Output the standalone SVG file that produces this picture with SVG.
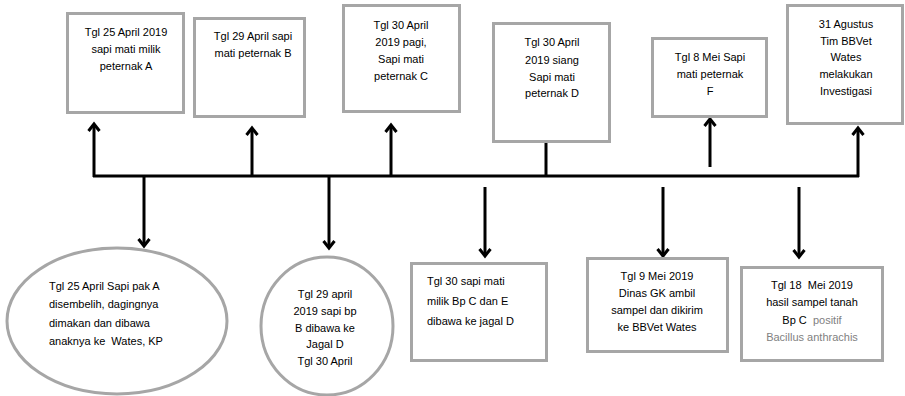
<svg xmlns="http://www.w3.org/2000/svg" width="905" height="396" viewBox="0 0 905 396">
  <style>
    .box { fill: #ffffff; stroke: #a6a6a6; stroke-width: 3; }
    .txt { font-family: "Liberation Sans", Arial, sans-serif; font-size: 11px; fill: #000000; }
    .mid { text-anchor: middle; }
    .grey { fill: #7f7f7f; }
    .line { fill: none; stroke: #000000; stroke-width: 3; }
  </style>
  <defs>
    <marker id="head" markerUnits="userSpaceOnUse" markerWidth="16" markerHeight="16" viewBox="-8 -8 16 16" refX="0" refY="0" orient="auto">
      <polyline points="-7,-5.5 0,0 -7,5.5" fill="none" stroke="#000000" stroke-width="3" stroke-linejoin="miter"/>
    </marker>
  </defs>

  <!-- timeline with connectors -->
  <g id="connectors">
    <line class="line" x1="93" y1="176" x2="859" y2="176"/>
    <!-- upward events -->
    <line class="line" x1="94" y1="177" x2="94" y2="124" marker-end="url(#head)"/>
    <line class="line" x1="252" y1="176" x2="252" y2="128" marker-end="url(#head)"/>
    <line class="line" x1="391" y1="176" x2="391" y2="125" marker-end="url(#head)"/>
    <line class="line" x1="546" y1="176" x2="546" y2="143"/>
    <line class="line" x1="710" y1="167" x2="710" y2="119" marker-end="url(#head)"/>
    <line class="line" x1="858" y1="177" x2="858" y2="128" marker-end="url(#head)"/>
    <!-- downward events -->
    <line class="line" x1="144" y1="176" x2="144" y2="246" marker-end="url(#head)"/>
    <line class="line" x1="329" y1="176" x2="329" y2="248" marker-end="url(#head)"/>
    <line class="line" x1="485" y1="187" x2="485" y2="256" marker-end="url(#head)"/>
    <line class="line" x1="663" y1="187" x2="663" y2="256" marker-end="url(#head)"/>
    <line class="line" x1="799" y1="187" x2="799" y2="257" marker-end="url(#head)"/>
  </g>

  <!-- events above the timeline -->
  <g id="event-a">
    <rect class="box" x="67.5" y="13.5" width="116" height="99"/>
    <text class="txt mid" x="126" y="36">Tgl 25 April 2019</text>
    <text class="txt mid" x="126" y="53">sapi mati milik</text>
    <text class="txt mid" x="126" y="70">peternak A</text>
  </g>
  <g id="event-b">
    <rect class="box" x="194.5" y="18.5" width="110" height="98"/>
    <text class="txt mid" x="253" y="40">Tgl 29 April sapi</text>
    <text class="txt mid" x="253" y="57">mati peternak B</text>
  </g>
  <g id="event-c">
    <rect class="box" x="343.5" y="5.5" width="116" height="106"/>
    <text class="txt mid" x="401" y="29">Tgl 30 April</text>
    <text class="txt mid" x="401" y="46">2019 pagi,</text>
    <text class="txt mid" x="401" y="63">Sapi mati</text>
    <text class="txt mid" x="401" y="80">peternak C</text>
  </g>
  <g id="event-d">
    <rect class="box" x="493.5" y="23.5" width="116" height="118"/>
    <text class="txt mid" x="552" y="46">Tgl 30 April</text>
    <text class="txt mid" x="552" y="64">2019 siang</text>
    <text class="txt mid" x="552" y="81">Sapi mati</text>
    <text class="txt mid" x="552" y="97">peternak D</text>
  </g>
  <g id="event-f">
    <rect class="box" x="652.5" y="38.5" width="114" height="78"/>
    <text class="txt mid" x="710" y="61">Tgl 8 Mei Sapi</text>
    <text class="txt mid" x="710" y="78">mati peternak</text>
    <text class="txt mid" x="710" y="95">F</text>
  </g>
  <g id="event-investigasi">
    <rect class="box" x="787.5" y="5.5" width="115" height="118"/>
    <text class="txt mid" x="846" y="28">31 Agustus</text>
    <text class="txt mid" x="846" y="45">Tim BBVet</text>
    <text class="txt mid" x="846" y="61">Wates</text>
    <text class="txt mid" x="846" y="78">melakukan</text>
    <text class="txt mid" x="846" y="95">Investigasi</text>
  </g>

  <!-- events below the timeline -->
  <g id="event-a-meat">
    <ellipse class="box" cx="117" cy="321" rx="110" ry="73"/>
    <text class="txt" x="49" y="290">Tgl 25 April Sapi pak A</text>
    <text class="txt" x="49" y="308">disembelih, dagingnya</text>
    <text class="txt" x="49" y="327">dimakan dan dibawa</text>
    <text class="txt" x="49" y="345" xml:space="preserve">anaknya ke  Wates, KP</text>
  </g>
  <g id="event-b-jagal">
    <ellipse class="box" cx="327" cy="326" rx="66" ry="69"/>
    <text class="txt mid" x="325" y="298">Tgl 29 april</text>
    <text class="txt mid" x="325" y="315">2019 sapi bp</text>
    <text class="txt mid" x="325" y="332">B dibawa ke</text>
    <text class="txt mid" x="325" y="348">Jagal D</text>
    <text class="txt mid" x="325" y="365">Tgl 30 April</text>
  </g>
  <g id="event-ce-jagal">
    <rect class="box" x="411.5" y="263.5" width="135" height="97"/>
    <text class="txt" x="427" y="285">Tgl 30 sapi mati</text>
    <text class="txt" x="427" y="305">milik Bp C dan E</text>
    <text class="txt" x="427" y="325">dibawa ke jagal D</text>
  </g>
  <g id="event-sampel">
    <rect class="box" x="587.5" y="258.5" width="140" height="93"/>
    <text class="txt mid" x="657" y="280">Tgl 9 Mei 2019</text>
    <text class="txt mid" x="657" y="297">Dinas GK ambil</text>
    <text class="txt mid" x="657" y="314">sampel dan dikirim</text>
    <text class="txt mid" x="657" y="331">ke BBVet Wates</text>
  </g>
  <g id="event-hasil">
    <rect class="box" x="741.5" y="267.5" width="141" height="93"/>
    <text class="txt mid" x="812" y="289" xml:space="preserve">Tgl 18  Mei 2019</text>
    <text class="txt mid" x="812" y="306">hasil sampel tanah</text>
    <text class="txt mid" x="812" y="324" xml:space="preserve">Bp C  <tspan class="grey">positif</tspan></text>
    <text class="txt mid grey" x="812" y="341">Bacillus anthrachis</text>
  </g>
</svg>
